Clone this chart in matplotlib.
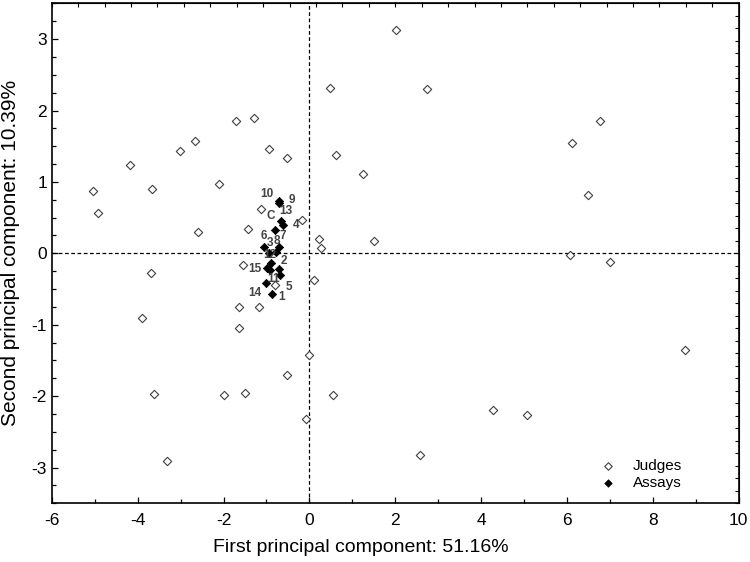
import numpy as np
import matplotlib
matplotlib.use("Agg")
import matplotlib.pyplot as plt

plt.rcParams['font.family'] = ['Liberation Sans', 'DejaVu Sans']
plt.rcParams['axes.unicode_minus'] = False

# Judges (open diamonds)
judges_x = [2.02, 0.47, -1.71, -1.28, -2.67, -3.01, -0.95, -0.53, 0.61, 1.24,
            -4.18, -5.03, -3.67, -2.10, -4.93, -1.12, -0.18, -2.59, -1.43, 0.23,
            0.26, 1.50, 2.73, 6.76, 6.12, 6.48, 6.07, 7.01, 0.11, -0.01,
            8.75, 0.55, -0.08, 4.27, 5.08, 2.57, -3.70, -1.55, -3.89, -1.64,
            -1.17, -1.64, -0.53, -3.62, -2.00, -1.50, -3.32, -0.81]
judges_y = [3.13, 2.31, 1.86, 1.90, 1.57, 1.43, 1.46, 1.34, 1.38, 1.11,
            1.24, 0.87, 0.90, 0.97, 0.56, 0.62, 0.46, 0.30, 0.34, 0.20,
            0.08, 0.175, 2.30, 1.85, 1.54, 0.82, -0.02, -0.12, -0.375, -1.42,
            -1.35, -1.98, -2.32, -2.20, -2.26, -2.83, -0.27, -0.16, -0.91, -0.75,
            -0.75, -1.05, -1.70, -1.97, -1.98, -1.95, -2.91, -0.44]

# Assays (filled diamonds)
assay_names = ['10', '9', '13', '4', 'C', '6', '7', '3', '8', '12', '15', '2', '11', '5', '14', '1']
assays_x = [-0.70, -0.70, -0.65, -0.62, -0.81, -1.05, -0.70, -0.95, -0.78, -0.90,
            -0.98, -0.71, -0.92, -0.68, -1.01, -0.87]
assays_y = [0.73, 0.70, 0.45, 0.40, 0.32, 0.09, 0.09, 0.01, 0.02, -0.13,
            -0.21, -0.22, -0.24, -0.30, -0.41, -0.57]
# label offsets in pixels (styling)
label_off = [(-12, 7), (13, 3), (4, 10), (13, 0), (-4, 14), (0, 11), (3, 11), (1, 10),
             (1, 11), (-1, 8), (-12, -1), (5, 8), (4, -9), (9, -12), (-11, -10), (10, -3)]

fig = plt.figure(figsize=(7.5, 5.62), dpi=100)
ax = fig.add_axes([0.069, 0.1044, 0.916, 0.8896])

ax.axhline(0, color='black', lw=0.9, ls=(0, (3, 2)), zorder=1)
ax.axvline(0, color='black', lw=0.9, ls=(0, (3, 2)), zorder=1)

ax.scatter(judges_x, judges_y, marker='D', s=18, facecolors='white',
           edgecolors='#404040', linewidths=0.8, zorder=3, label='Judges')
ax.scatter(assays_x, assays_y, marker='D', s=18, facecolors='black',
           edgecolors='black', linewidths=0.5, zorder=4, label='Assays')

for name, x, y, (dx, dy) in zip(assay_names, assays_x, assays_y, label_off):
    ax.annotate(name, (x, y), xytext=(dx * 0.72, dy * 0.72), textcoords='offset points',
                ha='center', va='center', fontsize=8.5, fontweight='bold', color='#444444', zorder=5)

ax.set_xlim(-6, 10)
ax.set_ylim(-3.5, 3.5)
ax.set_xticks(np.arange(-6, 11, 2))
ax.set_xticks(np.arange(-6, 11, 1), minor=True)
ax.set_yticks(np.arange(-3, 4, 1))
ax.set_yticks(np.arange(-3.5, 3.51, 0.25), minor=True)
ax.tick_params(which='both', direction='in', labelsize=12.5, width=0.9)
ax.tick_params(which='major', length=4)
ax.tick_params(which='minor', length=3)
ax.tick_params(axis='x', pad=7)

sx = ax.secondary_xaxis('top')
sx.set_xticks(np.linspace(-6, 10, 27))
sx.tick_params(direction='in', length=3, labeltop=False)
sy = ax.secondary_yaxis('right')
sy.set_yticks(np.linspace(-3.5, 3.5, 41))
sy.tick_params(direction='in', length=3, labelright=False)

for sp in ax.spines.values():
    sp.set_linewidth(1.2)

ax.set_xlabel('First principal component: 51.16%', fontsize=14)
ax.xaxis.set_label_coords(0.45, -0.072)
ax.set_ylabel('Second principal component: 10.39%', fontsize=15)
ax.yaxis.set_label_coords(-0.046, 0.5)

ax.legend(loc='lower left', bbox_to_anchor=(0.768, 0.0), frameon=False, fontsize=11,
          handletextpad=0.6, markerscale=0.9, labelspacing=0.2)

fig.savefig('out.png', dpi=100)
